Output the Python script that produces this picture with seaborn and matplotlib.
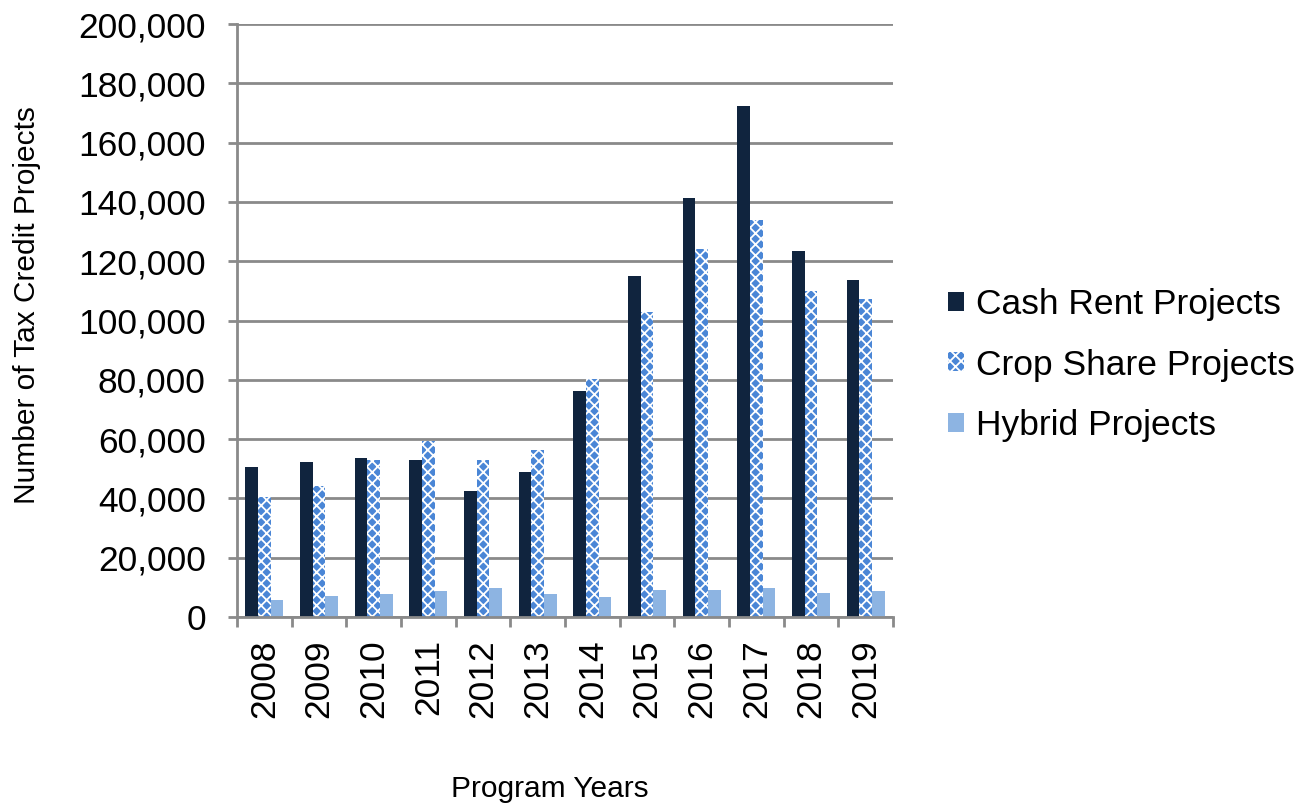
import matplotlib
matplotlib.use("Agg")
import matplotlib.pyplot as plt
import matplotlib.ticker as mticker
from matplotlib.patches import Patch
import numpy as np
import pandas as pd
import seaborn as sns

# Program years and project counts per arrangement type
years = ["2008", "2009", "2010", "2011", "2012", "2013",
         "2014", "2015", "2016", "2017", "2018", "2019"]
cash_rent = [50500, 52400, 53500, 53000, 42400, 49000,
             76300, 115000, 141300, 172200, 123600, 113800]
crop_share = [40500, 44300, 53000, 59400, 52900, 56300,
              80300, 102800, 124200, 134000, 109800, 107200]
hybrid = [5900, 7000, 7600, 8700, 9800, 7600,
          6900, 9200, 9200, 9800, 8100, 8700]
series_names = ["Cash Rent Projects", "Crop Share Projects", "Hybrid Projects"]

colors = ["#10243e", "#4a86d6", "#8db4e2"]
grid_gray = "#8a8a8a"

df = pd.DataFrame({
    "year": years * 3,
    "value": cash_rent + crop_share + hybrid,
    "series": [series_names[0]] * len(years)
              + [series_names[1]] * len(years)
              + [series_names[2]] * len(years),
})

sns.set_theme(style="white")
plt.rcParams["font.family"] = ["Liberation Sans", "DejaVu Sans"]
plt.rcParams["text.color"] = "black"
plt.rcParams["hatch.linewidth"] = 1.3

fig = plt.figure(figsize=(13, 8.06), dpi=100)
ax = fig.add_axes([237 / 1300, 1 - 617 / 806, 656 / 1300, 593 / 806])

sns.barplot(data=df, x="year", y="value", hue="series", order=years,
            hue_order=series_names, palette=colors, width=0.69,
            saturation=1, linewidth=0, legend=False, ax=ax)

# Crop share bars carry a white lattice pattern
for bar in ax.containers[1]:
    bar.set_hatch("xxx")
    bar.set_edgecolor("white")
    bar.set_linewidth(0)

ax.set_ylim(0, 200000)
ax.set_xlim(-0.5, len(years) - 0.5)
ax.yaxis.set_major_locator(mticker.MultipleLocator(20000))
ax.yaxis.set_major_formatter(mticker.FuncFormatter(lambda v, p: f"{int(v):,}"))
ax.grid(axis="y", color=grid_gray, linewidth=2.0)
ax.set_axisbelow(True)

for side in ["top", "right"]:
    ax.spines[side].set_visible(False)
for side in ["left", "bottom"]:
    ax.spines[side].set_color(grid_gray)
    ax.spines[side].set_linewidth(2.0)

ax.set_xlabel("")
ax.set_ylabel("")

# Category boundary ticks below the axis, labels centred under groups
ax.set_xticks(np.arange(len(years)))
ax.set_xticklabels(years, rotation=90, va="top", ha="center")
ax.set_xticks(np.arange(len(years) + 1) - 0.5, minor=True)
ax.tick_params(axis="x", which="major", length=0, pad=16, labelsize=25.5,
               labelcolor="black")
ax.tick_params(axis="x", which="minor", length=7, width=2.0, color=grid_gray,
               direction="out", bottom=True)
ax.tick_params(axis="y", length=6.5, width=2.0, color=grid_gray, pad=16,
               labelsize=25.5, labelcolor="black", left=True)

fig.text(27 / 1300, 1 - 305 / 806, "Number of Tax Credit Projects",
         rotation=90, ha="center", va="center", fontsize=21.5)
fig.text(549.5 / 1300, 1 - 797 / 806, "Program Years",
         ha="center", va="baseline", fontsize=21.5)

handles = [
    Patch(facecolor=colors[0], edgecolor="none"),
    Patch(facecolor=colors[1], edgecolor="white", hatch="xxx", linewidth=0),
    Patch(facecolor=colors[2], edgecolor="none"),
]
fig.legend(handles, series_names, loc="center left",
           bbox_to_anchor=(948 / 1300, 1 - 365 / 806), frameon=False,
           fontsize=25.5, handlelength=0.45, handleheight=0.45,
           handletextpad=0.35, labelspacing=0.78, borderpad=0,
           borderaxespad=0)

fig.savefig("out.png", dpi=100)
